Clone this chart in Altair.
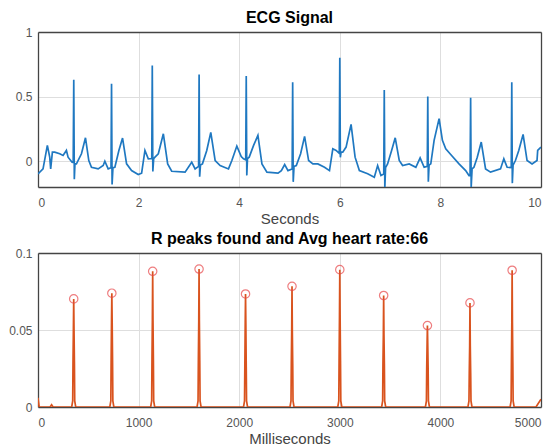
import altair as alt
import pandas as pd

# ---- ECG trace (seconds, amplitude) ----
ecg_t = [0.000, 0.100, 0.186, 0.233, 0.252, 0.286, 0.332, 0.432, 0.498, 0.565, 0.598, 0.678,
         0.700, 0.711, 0.722, 0.735, 0.764, 0.864, 0.944, 1.010, 1.063, 1.196, 1.296, 1.329, 1.395,
         1.452, 1.462, 1.473, 1.490, 1.528, 1.608, 1.681, 1.761, 1.860, 1.993, 2.060, 2.126, 2.193,
         2.262, 2.272, 2.283, 2.300, 2.326, 2.392, 2.492, 2.578, 2.658, 2.924, 3.056, 3.123,
         3.193, 3.203, 3.214, 3.230, 3.269, 3.355, 3.435, 3.522, 3.621, 3.787, 3.854, 3.953, 4.040, 4.086,
         4.130, 4.140, 4.151, 4.165, 4.199, 4.286, 4.372, 4.452, 4.551, 4.772, 4.838, 4.904, 4.970,
         5.053, 5.063, 5.074, 5.090, 5.135, 5.221, 5.300, 5.380, 5.465, 5.564, 5.696, 5.795, 5.861, 5.927,
         5.990, 6.000, 6.011, 6.025, 6.059, 6.125, 6.224, 6.304, 6.389, 6.554, 6.686, 6.752, 6.818,
         6.874, 6.884, 6.895, 6.910, 6.950, 7.030, 7.102, 7.182, 7.248, 7.380, 7.512, 7.597, 7.677,
         7.739, 7.749, 7.760, 7.775, 7.809, 7.875, 7.974, 8.040, 8.106, 8.205, 8.370, 8.502, 8.568,
         8.590, 8.601, 8.612, 8.630, 8.667, 8.733, 8.812, 8.898, 8.997, 9.195, 9.261, 9.327,
         9.409, 9.419, 9.430, 9.445, 9.492, 9.558, 9.644, 9.723, 9.822, 9.921, 9.934, 10.000]
ecg_v = [-0.098, -0.060, 0.122, 0.031, -0.060, 0.070, 0.070, 0.057, 0.044, 0.083, 0.031, -0.008,
         -0.010, 0.630, -0.140, -0.020, -0.021, 0.057, 0.181, 0.005, -0.047, -0.060, -0.034, 0.000, -0.060,
         -0.050, 0.600, -0.180, -0.050, -0.047, 0.083, 0.179, -0.021, -0.073, -0.104, -0.093, 0.083, 0.018,
         0.020, 0.740, -0.080, 0.020, 0.031, 0.057, 0.212, -0.021, -0.078, -0.085, -0.008, -0.060,
         -0.040, 0.670, -0.120, -0.030, -0.021, 0.083, 0.223, 0.005, -0.034, -0.060, 0.005, 0.117, 0.036, 0.018,
         0.010, 0.660, -0.110, 0.020, 0.031, 0.122, 0.199, -0.021, -0.085, -0.093, -0.073, -0.026, -0.073,
         -0.060, 0.610, -0.160, -0.040, -0.034, 0.057, 0.192, 0.005, -0.021, -0.021, -0.047, -0.073, 0.096, 0.083,
         0.060, 0.800, 0.030, 0.070, 0.070, 0.109, 0.285, 0.031, -0.073, -0.098, -0.124, -0.034, -0.111,
         -0.100, 0.550, -0.210, -0.050, -0.021, 0.083, 0.181, 0.005, -0.034, -0.021, -0.047, 0.026, -0.047,
         -0.040, 0.500, -0.160, -0.030, -0.021, 0.161, 0.329, 0.161, 0.096, 0.052, -0.021, -0.073, -0.111,
         -0.110, 0.490, -0.200, -0.060, -0.047, 0.031, 0.148, -0.060, -0.085, -0.060, 0.018, -0.047,
         -0.050, 0.610, -0.170, -0.030, 0.005, 0.083, 0.207, 0.005, -0.021, 0.005, 0.083, 0.109]

# ---- R peaks (milliseconds, amplitude) ----
peak_ms = [355, 734, 1140, 1601, 2063, 2525, 3000, 3436, 3871, 4294, 4713]
peak_v = [0.0702, 0.0739, 0.0881, 0.0896, 0.0734, 0.0784, 0.0892, 0.0724, 0.0529, 0.0676, 0.0888]
mid_hi = [0.051, 0.057, 0.057, 0.056, 0.055, 0.050, 0.060, 0.047, 0.042, 0.040, 0.055]
mid_lo = [0.029, 0.030, 0.031, 0.030, 0.026, 0.028, 0.030, 0.028, 0.025, 0.022, 0.029]
spike_dx = [-20, -10, -7, -3, 0, 3, 7, 10, 20]
base_ms = [0, 12, 120, 135, 150]
base_v = [0.006, 0.0, 0.0, 0.0015, 0.0]
end_ms = [4950, 5000]
end_v = [0.0, 0.005]

FONT = "Liberation Sans"
FRAME_C = "#444444"

ecg_df = pd.DataFrame({"t": ecg_t, "v": ecg_v})

ms, val = list(base_ms), list(base_v)
for p, pv, hi, lo in zip(peak_ms, peak_v, mid_hi, mid_lo):
    hs = [0.0, 0.004, lo, hi, pv, hi, lo, 0.004, 0.0]
    for dx, h in zip(spike_dx, hs):
        ms.append(p + dx)
        val.append(h)
ms += end_ms
val += end_v
sig_df = pd.DataFrame({"ms": ms, "v": val})
pk_df = pd.DataFrame({"ms": peak_ms, "v": peak_v})

ax_common = dict(grid=True, gridColor="#dedede", ticks=False, domain=True,
                 domainColor=FRAME_C, domainWidth=1.3,
                 labelColor="#555555", labelFont=FONT, labelFontSize=12,
                 titleColor="#444444", titleFont=FONT, titleFontSize=15, titleFontWeight="normal")
# mirrored frame-only axes (top / right)
ax_frame = dict(grid=False, ticks=False, labels=False, domain=True, title=None,
                domainColor=FRAME_C, domainWidth=1.3, minExtent=0, maxExtent=0)


def panel(df, xf, yf, xdom, ydom, xvals, yvals, xtitle, color):
    xs = alt.Scale(domain=xdom, nice=False, zero=False)
    ys = alt.Scale(domain=ydom, nice=False, zero=False)
    main = alt.Chart(df).mark_line(color=color, strokeWidth=1.7, clip=True).encode(
        x=alt.X(f"{xf}:Q", scale=xs,
                axis=alt.Axis(title=xtitle, values=xvals, format="d", labelPadding=10,
                              titlePadding=3, **ax_common)),
        y=alt.Y(f"{yf}:Q", scale=ys,
                axis=alt.Axis(title=None, values=yvals, format="~g", labelPadding=6,
                              minExtent=29, maxExtent=29, **ax_common)),
    )
    frame = alt.Chart(df).mark_line(opacity=0, clip=True).encode(
        x=alt.X(f"{xf}:Q", scale=xs, axis=alt.Axis(orient="top", **ax_frame)),
        y=alt.Y(f"{yf}:Q", scale=ys, axis=alt.Axis(orient="right", **ax_frame)),
    )
    return main, frame


top_main, top_frame = panel(ecg_df, "t", "v", [0, 10], [-0.2, 1], [0, 2, 4, 6, 8, 10],
                            [0, 0.5, 1], "Seconds", "#1f78c1")
top = alt.layer(top_main, top_frame).resolve_axis(x="independent", y="independent").properties(
    width=503, height=155,
    title=alt.TitleParams("ECG Signal", font=FONT, fontSize=16, fontWeight="bold",
                          color="black", offset=0))

bot_main, bot_frame = panel(sig_df, "ms", "v", [0, 5000], [0, 0.1],
                            [0, 1000, 2000, 3000, 4000, 5000], [0, 0.05, 0.1],
                            "Milliseconds", "#d9531e")
bot_pts = alt.Chart(pk_df).mark_point(shape="circle", color="#e8474a", filled=False,
                                      size=70, strokeWidth=1.2).encode(
    x=alt.X("ms:Q", scale=alt.Scale(domain=[0, 5000], nice=False, zero=False), axis=None),
    y=alt.Y("v:Q", scale=alt.Scale(domain=[0, 0.1], nice=False, zero=False), axis=None))
bottom = alt.layer(bot_main, bot_frame, bot_pts).resolve_axis(
    x="independent", y="independent").properties(
    width=503, height=154,
    title=alt.TitleParams("R peaks found and Avg heart rate:66", font=FONT, fontSize=16,
                          fontWeight="bold", color="black", offset=0))

chart = alt.vconcat(top, bottom, spacing=5).properties(
    padding={"left": 0, "top": 2, "right": 5, "bottom": 5}, background="white"
).configure_view(stroke=None)

chart.save("out.html", embed_options={"renderer": "svg", "actions": False})
